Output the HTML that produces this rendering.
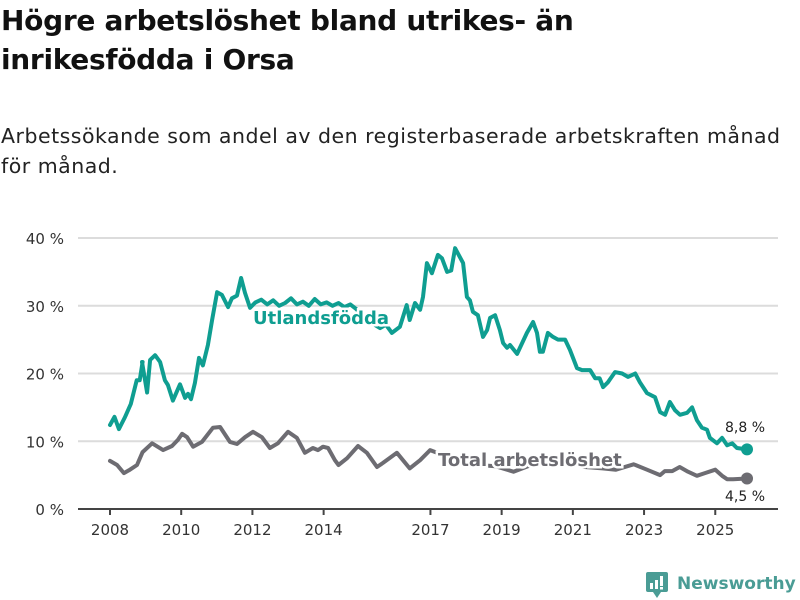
<!DOCTYPE html>
<html><head><meta charset="utf-8">
<style>
body{margin:0;background:#fff;}
#wrap{position:relative;width:800px;height:600px;overflow:hidden;font-family:"DejaVu Sans",sans-serif;color:#111;}
h1{position:absolute;left:1px;top:1px;margin:0;font-size:28px;line-height:39px;font-weight:bold;letter-spacing:-0.3px;}
p.sub{position:absolute;left:1px;top:121px;margin:0;font-size:20.5px;line-height:30px;color:#222;letter-spacing:0.5px;}
svg{position:absolute;left:0;top:0;font-family:"DejaVu Sans",sans-serif;}
</style></head><body>
<div id="wrap">
<h1>Högre arbetslöshet bland utrikes- än<br>inrikesfödda i Orsa</h1>
<p class="sub">Arbetssökande som andel av den registerbaserade arbetskraften månad<br>för månad.</p>
<svg id="chart" width="800" height="600"></svg>
</div>
<script>
const yTicks=[0,10,20,30,40];
const xTickYears=[2008,2010,2012,2014,2017,2019,2021,2023,2025];
const utlMonths=[0,1.5,3,5,7,9,10,11,10.8,12.5,13.5,15.2,16.9,18.5,19.5,21.2,23.6,25.3,26.3,27.3,28.6,30,31.3,33,34.4,36.1,37.7,39.8,41.1,42.8,44.2,45.5,47.2,49,51,53,55,57,59,61,63,65,67,69,71,73,75,77,79,81,83,85,88,91,93,95,97.7,100,101,102.8,104.5,105.5,106.8,108.5,110.5,111.9,113.6,115,116.3,119,120.3,121.3,122.3,124,125.7,127.1,128.1,129.8,131.4,132.5,133.8,134.8,137.2,140.5,142.6,143.9,144.9,145.9,147.6,149.3,151,153.4,155,157.4,159.1,161.8,163.5,165,166.2,167.8,170.2,172.6,174.6,177,178.6,181,183.7,185.4,187.1,188.7,190.4,192.1,194.5,196.2,197.8,199.5,201.2,202.2,204.6,206.3,208,209.7,211.3,214.7];
const utlValues=[12.4,13.6,11.8,13.5,15.5,19,19,21.7,21.7,17.2,22,22.7,21.7,19,18.3,16,18.4,16.4,17,16.2,18.6,22.3,21.2,24.2,27.9,32,31.6,29.8,31.1,31.5,34.1,31.9,29.7,30.5,30.9,30.2,30.8,30.0,30.4,31.1,30.2,30.6,30.0,31.0,30.2,30.5,30.0,30.4,29.8,30.2,29.5,28.6,27.5,26.7,27.2,26.0,26.9,30.1,27.9,30.4,29.4,31.3,36.3,34.8,37.5,37,35,35.2,38.5,36.3,31.3,30.8,29.1,28.6,25.4,26.4,28.2,28.6,26.4,24.5,23.8,24.2,22.9,26,27.6,26,23.2,23.2,26,25.4,25,25,23.5,20.8,20.5,20.5,19.3,19.3,18,18.7,20.2,20,19.5,20,18.7,17.1,16.5,14.3,13.9,15.8,14.6,13.9,14.2,15,13.1,12,11.7,10.5,9.7,10.5,9.4,9.7,9,8.8];
const totMonths=[0,2.4,4.7,6.7,9.1,11,14.2,17.9,20.9,22.9,24.3,26,28,31,34.7,37.1,40.4,42.8,45.5,48.2,51.2,53.9,56.6,60,63,65.7,68.4,70.1,71.8,73.5,75.8,77,79.9,83.6,86.6,90,92,96.7,101,104.5,107.9,112,118,124,130,136,142,148,154,160,166,170.5,176.5,181,185.4,187,189.5,192,194.8,197.8,200.5,204,206.3,208,210,214.7];
const totValues=[7.1,6.5,5.3,5.8,6.5,8.4,9.7,8.7,9.3,10.2,11.1,10.6,9.2,9.9,12,12.1,9.9,9.6,10.6,11.4,10.6,9,9.7,11.4,10.5,8.3,9,8.7,9.2,9,7.2,6.5,7.5,9.3,8.3,6.2,6.8,8.3,6,7.2,8.7,8,7,6.5,6.3,5.5,6.5,6.5,6.8,6.2,6.0,5.8,6.6,5.8,5,5.6,5.6,6.2,5.5,4.9,5.3,5.8,4.9,4.4,4.4,4.5];

const NS="http://www.w3.org/2000/svg";
const svg=document.getElementById('chart');
const X0=110,PXM=2.967,Y0=509,PXV=6.775;
function xs(m){return X0+m*PXM;}
function ys(v){return Y0-v*PXV;}
function mk(t,a,p){const e=document.createElementNS(NS,t);for(const k in a)e.setAttribute(k,a[k]);(p||svg).appendChild(e);return e;}
function txt(s,a){const e=mk('text',a);e.textContent=s;return e;}

yTicks.forEach(v=>{
  if(v>0){const g=mk('line',{x1:78,x2:778,y1:ys(v),y2:ys(v),stroke:'#dcdcdc','stroke-width':2});
  
  }
  const t=txt(v+' %',{x:64,y:ys(v)+6,'text-anchor':'end','font-size':15,fill:'#333'});
  
  
});
const ax=mk('line',{x1:78,x2:778,y1:Y0,y2:Y0,stroke:'#444','stroke-width':2});


xTickYears.forEach(yr=>{
  const x=xs((yr-2008)*12);
  const tk=mk('line',{x1:x,x2:x,y1:Y0,y2:Y0+6,stroke:'#444','stroke-width':2});
  
  
  const t=txt(String(yr),{x:x,y:Y0+26,'text-anchor':'middle','font-size':15,fill:'#333'});
  
  
});
function line(ms,vs,col,name){
  const d=ms.map((m,i)=>(i?'L':'M')+xs(m).toFixed(1)+','+ys(vs[i]).toFixed(1)).join('');
  const p=mk('path',{d:d,fill:'none',stroke:col,'stroke-width':4,'stroke-linejoin':'round','stroke-linecap':'round'});
  
  
  const n=ms.length-1;
  const c=mk('circle',{cx:xs(ms[n]),cy:ys(vs[n]),r:6,fill:col});
  
  
}
line(totMonths,totValues,'#6d6c72','total-line');
line(utlMonths,utlValues,'#0f9e91','utlandsfodda-line');
const l1=txt('Utlandsfödda',{x:253,y:324,'font-size':18,'font-weight':'bold',fill:'#0f9e91',stroke:'#fff','stroke-width':5,'paint-order':'stroke'});


const l2=txt('Total arbetslöshet',{x:438,y:466,'font-size':18,'font-weight':'bold',fill:'#6d6c72',stroke:'#fff','stroke-width':5,'paint-order':'stroke'});


const e1=txt(String(utlValues[utlValues.length-1]).replace('.',',')+' %',{x:745,y:432,'text-anchor':'middle','font-size':14,fill:'#222'});


const e2=txt(String(totValues[totValues.length-1]).replace('.',',')+' %',{x:745,y:501,'text-anchor':'middle','font-size':14,fill:'#222'});


const logo=mk('g',{});


mk('rect',{x:646,y:572,width:22,height:20,rx:2,fill:'#4a9c95'},logo);
mk('path',{d:'M653,592 L657,598 L661,592 Z',fill:'#4a9c95'},logo);
mk('rect',{x:650,y:583,width:3,height:6,fill:'#fff'},logo);
mk('rect',{x:655,y:580,width:3,height:9,fill:'#fff'},logo);
mk('rect',{x:660,y:576,width:3,height:10,fill:'#fff'},logo);
mk('rect',{x:660,y:587,width:3,height:2.5,fill:'#fff'},logo);
const lt=mk('text',{x:677,y:589,'font-size':17,'font-weight':'bold',fill:'#4a9c95'},logo);
lt.textContent='Newsworthy';
</script>
</body></html>
